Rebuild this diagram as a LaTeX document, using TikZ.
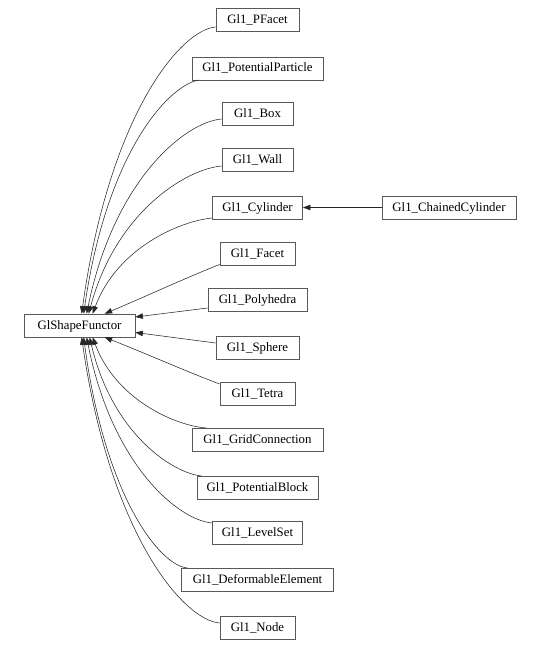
\documentclass[tikz,border=0pt]{standalone}
\usepackage{fontspec}
\setmainfont{Liberation Serif}
\usetikzlibrary{arrows.meta,calc}
\tikzset{
  cls/.style={draw=black!65,fill=white,line width=0.7pt,minimum height=23pt,inner sep=1pt,text height=9.5pt,text depth=2.5pt,font=\fontsize{12.8}{15}\selectfont},
  inh/.style={draw=black!85,line width=0.55pt,-{Triangle[length=7.5pt,width=5.5pt]}}
}
\begin{document}
\begin{tikzpicture}[x=1pt,y=-1pt]
\useasboundingbox (0,0) rectangle (541,650);
\node[cls,minimum width=111pt] (f) at (79.5,325.5) {GlShapeFunctor};
\node[cls,minimum width=83pt] (pf) at (257.5,20) {Gl1\_PFacet};
\node[cls,minimum width=131pt] (pp) at (257.5,68.5) {Gl1\_PotentialParticle};
\node[cls,minimum width=71pt] (bx) at (257.5,114) {Gl1\_Box};
\node[cls,minimum width=71pt] (wl) at (257.5,160) {Gl1\_Wall};
\node[cls,minimum width=90pt] (cy) at (257.5,207.5) {Gl1\_Cylinder};
\node[cls,minimum width=134pt] (cc) at (449,207.5) {Gl1\_ChainedCylinder};
\node[cls,minimum width=75pt] (fa) at (257.5,253.5) {Gl1\_Facet};
\node[cls,minimum width=99pt] (ph) at (257.5,299.5) {Gl1\_Polyhedra};
\node[cls,minimum width=83pt] (sp) at (257.5,348) {Gl1\_Sphere};
\node[cls,minimum width=75pt] (te) at (257.5,394) {Gl1\_Tetra};
\node[cls,minimum width=131pt] (gc) at (257.5,439.5) {Gl1\_GridConnection};
\node[cls,minimum width=121pt] (pb) at (257.5,487.5) {Gl1\_PotentialBlock};
\node[cls,minimum width=90pt] (ls) at (257.5,533) {Gl1\_LevelSet};
\node[cls,minimum width=152pt] (de) at (257.5,579.5) {Gl1\_DeformableElement};
\node[cls,minimum width=75pt] (nd) at (257.5,627.5) {Gl1\_Node};
% upper edges
\draw[inh] ($(pf.west)+(0,7)$) .. controls (180,30) and (109,116) .. ($(f.north west)+(58,0)$);
\draw[inh] ($(pp.west)+(7,11.5)$) .. controls (168,86) and (107,152) .. ($(f.north west)+(60,0)$);
\draw[inh] ($(bx.west)+(0,5)$) .. controls (185,122) and (114,180) .. ($(f.north west)+(63,0)$);
\draw[inh] ($(wl.west)+(0,6)$) .. controls (186,169) and (116,212) .. ($(f.north west)+(65,0)$);
\draw[inh] ($(cy.west)+(0,10.5)$) .. controls (180,221) and (117,248) .. ($(f.north west)+(69,0)$);
\draw[inh] ($(fa.west)+(0,11)$) .. controls (190,276) and (140,299) .. ($(f.north west)+(81,0)$);
\draw[inh] ($(ph.west)+(0,8.5)$) -- ($(f.east)+(0,-8.5)$);
\draw[inh] ($(sp.west)+(0,-5)$) -- ($(f.east)+(0,7)$);
% lower edges
\draw[inh] ($(te.west)+(0,-10)$) .. controls (190,373) and (140,351) .. ($(f.south west)+(81,0)$);
\draw[inh] ($(gc.west)+(15,-11.5)$) .. controls (176,426) and (116,400) .. ($(f.south west)+(69,0)$);
\draw[inh] ($(pb.west)+(5,-11.5)$) .. controls (172,473) and (112,433) .. ($(f.south west)+(66,0)$);
\draw[inh] ($(ls.west)+(0,-10)$) .. controls (178,520) and (112,465) .. ($(f.south west)+(63,0)$);
\draw[inh] ($(de.west)+(6.5,-11.5)$) .. controls (160,566) and (105,497) .. ($(f.south west)+(60,0)$);
\draw[inh] ($(nd.west)+(0,-4.5)$) .. controls (183,620) and (110,534) .. ($(f.south west)+(58,0)$);
% chained
\draw[inh] (cc.west) -- (cy.east);
\end{tikzpicture}
\end{document}
